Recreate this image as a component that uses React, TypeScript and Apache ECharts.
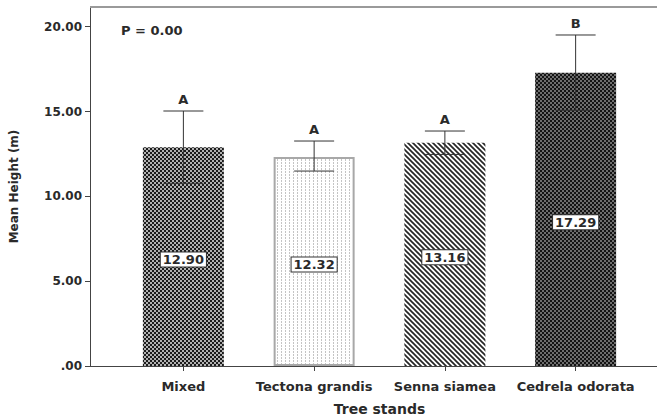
import React, { useEffect, useRef } from "react";
import * as echarts from "echarts";

const categories = ["Mixed", "Tectona grandis", "Senna siamea", "Cedrela odorata"];
const means = [12.9, 12.32, 13.16, 17.29];
const errLow = [10.77, 11.49, 12.47, 15.07];
const errHigh = [15.03, 13.26, 13.85, 19.51];
const letters = ["A", "A", "A", "B"];
const yTicks = [0, 5, 10, 15, 20];
const pText = "P = 0.00";

const FONT = "DejaVu Sans";
const TXT = "#2a2a2a";
const AX = "#444";

function makeTile(w: number, h: number, draw: (c: CanvasRenderingContext2D) => void) {
  const cv = document.createElement("canvas");
  cv.width = w;
  cv.height = h;
  const ctx = cv.getContext("2d")!;
  draw(ctx);
  return { image: cv, repeat: "repeat", imageWidth: w, imageHeight: h } as any;
}

function dots(bg: string, fg: string, r: number) {
  return makeTile(4, 4, (c) => {
    c.fillStyle = bg;
    c.fillRect(0, 0, 4, 4);
    c.fillStyle = fg;
    [[1, 1], [3, 3]].forEach(([x, y]) => {
      c.beginPath();
      c.arc(x, y, r, 0, Math.PI * 2);
      c.fill();
    });
  });
}

export default function App() {
  const ref = useRef<HTMLDivElement>(null);
  useEffect(() => {
    if (!ref.current) return;
    const chart = echarts.init(ref.current, null, { renderer: "svg" });

    const patMixed = dots("#1c1c1c", "#e4e4e4", 1.0);
    const patCedrela = dots("#141414", "#8c8c8c", 1.0);
    const patTectona = makeTile(4, 3, (c) => {
      c.fillStyle = "#ffffff";
      c.fillRect(0, 0, 4, 3);
      c.fillStyle = "#c4c4c4";
      c.fillRect(1, 0, 1, 2);
    });
    const patSenna = makeTile(5, 5, (c) => {
      c.fillStyle = "#ffffff";
      c.fillRect(0, 0, 5, 5);
      c.strokeStyle = "#262626";
      c.lineWidth = 1.7;
      for (let k = -1; k <= 1; k++) {
        c.beginPath();
        c.moveTo(k * 5 - 1, -1);
        c.lineTo(k * 5 + 6, 6);
        c.stroke();
      }
    });
    const pats = [patMixed, patTectona, patSenna, patCedrela];
    const borders = [
      { borderColor: "#222", borderWidth: 0 },
      { borderColor: "#a8a8a8", borderWidth: 2 },
      { borderColor: "#444", borderWidth: 0 },
      { borderColor: "#111", borderWidth: 0 },
    ];

    const yMax = 21.16;
    const labelFont = { fontFamily: FONT, fontWeight: "bold" as const, color: TXT };

    chart.setOption({
      animation: false,
      grid: [
        { left: 90, right: 0, top: 7, bottom: 54, outerBoundsMode: "none", containLabel: false },
        { left: 118, right: 16, top: 7, bottom: 54, outerBoundsMode: "none", containLabel: false },
      ],
      xAxis: [
        {
          gridIndex: 0,
          type: "category",
          data: ["x"],
          axisLine: { show: true, lineStyle: { color: AX, width: 1 } },
          axisTick: { show: false },
          axisLabel: { show: false },
          splitLine: { show: false },
        },
        {
          gridIndex: 1,
          type: "category",
          data: categories,
          axisLine: { show: false },
          axisTick: { show: true, alignWithLabel: true, length: 5, lineStyle: { color: AX } },
          axisLabel: { ...labelFont, fontSize: 13, margin: 14, interval: 0 },
          name: "Tree stands",
          nameLocation: "middle",
          nameGap: 36,
          nameTextStyle: { ...labelFont, fontSize: 14 },
        },
      ],
      yAxis: [
        {
          gridIndex: 0,
          type: "value",
          min: 0,
          max: yMax,
          axisLine: { show: true, lineStyle: { color: AX, width: 1 } },
          axisTick: { show: true, length: 5, customValues: yTicks, lineStyle: { color: AX } },
          axisLabel: {
            ...labelFont,
            fontSize: 12,
            margin: 8,
            customValues: yTicks,
            formatter: (v: number) => (v === 0 ? ".00" : v.toFixed(2)),
          },
          splitLine: { show: false },
          name: "Mean Height (m)",
          nameLocation: "middle",
          nameGap: 70,
          nameTextStyle: { ...labelFont, fontSize: 12 },
        },
        {
          gridIndex: 1,
          type: "value",
          min: 0,
          max: yMax,
          show: false,
          splitLine: { show: false },
        },
      ],
      graphic: [
        {
          type: "line",
          shape: { x1: 90, y1: 7, x2: 657, y2: 7 },
          style: { stroke: "#9a9a9a", lineWidth: 2 },
          z: 10,
        },
        {
          type: "text",
          x: 121,
          y: 30,
          style: {
            text: pText,
            font: `bold 13px "${FONT}"`,
            fill: TXT,
            verticalAlign: "middle",
          },
          z: 10,
        },
      ],
      series: [
        {
          type: "bar",
          xAxisIndex: 1,
          yAxisIndex: 1,
          barWidth: 81,
          data: means.map((v, i) => ({
            value: v,
            itemStyle: { color: pats[i], ...borders[i] },
          })),
          label: {
            show: true,
            position: "inside",
            offset: [0, 3],
            formatter: (p: any) => Number(p.value).toFixed(2),
            ...labelFont,
            fontSize: 13,
            backgroundColor: "#ffffff",
            borderColor: "#333",
            borderWidth: 1,
            padding: [1, 2, 0, 2],
          },
          z: 2,
        },
        {
          type: "custom",
          xAxisIndex: 1,
          yAxisIndex: 1,
          data: means.map((_, i) => [i, errLow[i], errHigh[i]]),
          renderItem: (params: any, api: any) => {
            const i = api.value(0);
            const lo = api.coord([i, api.value(1)]);
            const hi = api.coord([i, api.value(2)]);
            const hw = 20;
            const st = { stroke: "#333", lineWidth: 1 };
            return {
              type: "group",
              children: [
                { type: "line", shape: { x1: hi[0], y1: hi[1], x2: lo[0], y2: lo[1] }, style: st },
                { type: "line", shape: { x1: hi[0] - hw, y1: hi[1], x2: hi[0] + hw, y2: hi[1] }, style: st },
                { type: "line", shape: { x1: lo[0] - hw, y1: lo[1], x2: lo[0] + hw, y2: lo[1] }, style: st },
                {
                  type: "text",
                  x: hi[0],
                  y: hi[1] - 5,
                  style: {
                    text: letters[params.dataIndex],
                    font: `bold 13px "${FONT}"`,
                    fill: TXT,
                    align: "center",
                    verticalAlign: "bottom",
                  },
                },
              ],
            };
          },
          z: 5,
        },
      ],
    });
    return () => chart.dispose();
  }, []);
  return (
    <div
      ref={ref}
      style={{ position: "absolute", left: 0, top: 0, width: 657, height: 420, background: "#fff" }}
    />
  );
}
